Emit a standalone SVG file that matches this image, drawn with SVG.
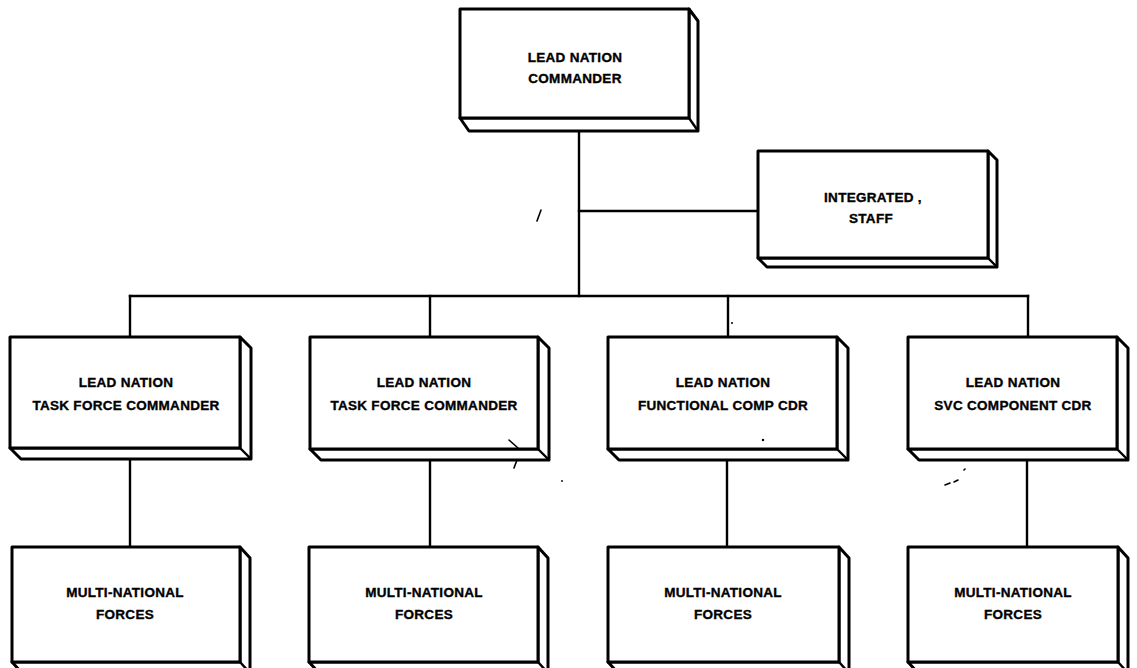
<svg xmlns="http://www.w3.org/2000/svg" width="1137" height="668" viewBox="0 0 1137 668">
<style>
  .face{fill:#fff;stroke:#000;stroke-width:3;stroke-linejoin:round}
  .slab{fill:#fff;stroke:#000;stroke-width:3;stroke-linejoin:round}
  .edge{stroke:#000;stroke-width:2.4;fill:none}
  .conn{stroke:#000;stroke-width:2.4;fill:none;stroke-linecap:square}
  .lbl{font-family:"Liberation Sans",Arial,sans-serif;font-weight:bold;font-size:13.5px;letter-spacing:0.3px;text-anchor:middle;fill:#000;stroke:#000;stroke-width:0.35}
  .spec{fill:#000;stroke:#000;stroke-width:1.6;stroke-linecap:round}
</style>
<rect width="1137" height="668" fill="#fff"/>

<g id="connectors">
  <path class="conn" d="M579 132 V296"/>
  <path class="conn" d="M579 211 H757"/>
  <path class="conn" d="M130 296 H1028"/>
  <path class="conn" d="M130 296 V337"/>
  <path class="conn" d="M430 296 V337"/>
  <path class="conn" d="M728 296 V337"/>
  <path class="conn" d="M1028 296 V337"/>
  <path class="conn" d="M130 459 V547"/>
  <path class="conn" d="M430 460 V547"/>
  <path class="conn" d="M727 460 V547"/>
  <path class="conn" d="M1027 460 V547"/>
</g>

<g id="lead-nation-commander">
  <polygon class="slab" points="460,118 469,131 698,131 698,21 689,9 689,118"/>
  <rect class="face" x="460" y="9" width="229" height="109"/>
  <path class="edge" d="M689 118 L698 131"/>
  <text class="lbl" x="575" y="62">LEAD NATION</text>
  <text class="lbl" x="575" y="83">COMMANDER</text>
</g>

<g id="integrated-staff">
  <polygon class="slab" points="758,258 767,267 997,267 997,160 988,151 988,258"/>
  <rect class="face" x="758" y="151" width="230" height="107"/>
  <path class="edge" d="M988 258 L997 267"/>
  <text class="lbl" x="873" y="202">INTEGRATED ,</text>
  <text class="lbl" x="871" y="223">STAFF</text>
</g>

<g id="task-force-1">
  <polygon class="slab" points="10,448 21,459 251,459 251,348 240,337 240,448"/>
  <rect class="face" x="10" y="337" width="230" height="111"/>
  <path class="edge" d="M240 448 L251 459"/>
  <text class="lbl" x="126" y="387">LEAD NATION</text>
  <text class="lbl" x="126" y="410">TASK FORCE COMMANDER</text>
</g>

<g id="task-force-2">
  <polygon class="slab" points="310,449 321,460 549,460 549,348 538,337 538,449"/>
  <rect class="face" x="310" y="337" width="228" height="112"/>
  <path class="edge" d="M538 449 L549 460"/>
  <text class="lbl" x="424" y="387">LEAD NATION</text>
  <text class="lbl" x="424" y="410">TASK FORCE COMMANDER</text>
</g>

<g id="functional-comp">
  <polygon class="slab" points="608,449 619,460 848,460 848,348 837,337 837,449"/>
  <rect class="face" x="608" y="337" width="229" height="112"/>
  <path class="edge" d="M837 449 L848 460"/>
  <text class="lbl" x="723" y="387">LEAD NATION</text>
  <text class="lbl" x="723" y="410">FUNCTIONAL COMP CDR</text>
</g>

<g id="svc-component">
  <polygon class="slab" points="908,449 919,460 1128,460 1128,348 1117,337 1117,449"/>
  <rect class="face" x="908" y="337" width="209" height="112"/>
  <path class="edge" d="M1117 449 L1128 460"/>
  <text class="lbl" x="1013" y="387">LEAD NATION</text>
  <text class="lbl" x="1013" y="410">SVC COMPONENT CDR</text>
</g>

<g id="mnf-1">
  <polygon class="slab" points="12,662 22,673 250,673 250,558 240,547 240,662"/>
  <rect class="face" x="12" y="547" width="228" height="115"/>
  <path class="edge" d="M240 662 L250 673"/>
  <text class="lbl" x="125" y="597">MULTI-NATIONAL</text>
  <text class="lbl" x="125" y="619">FORCES</text>
</g>

<g id="mnf-2">
  <polygon class="slab" points="309,662 319,673 548,673 548,558 538,547 538,662"/>
  <rect class="face" x="309" y="547" width="229" height="115"/>
  <path class="edge" d="M538 662 L548 673"/>
  <text class="lbl" x="424" y="597">MULTI-NATIONAL</text>
  <text class="lbl" x="424" y="619">FORCES</text>
</g>

<g id="mnf-3">
  <polygon class="slab" points="608,662 618,673 849,673 849,558 839,547 839,662"/>
  <rect class="face" x="608" y="547" width="231" height="115"/>
  <path class="edge" d="M839 662 L849 673"/>
  <text class="lbl" x="723" y="597">MULTI-NATIONAL</text>
  <text class="lbl" x="723" y="619">FORCES</text>
</g>

<g id="mnf-4">
  <polygon class="slab" points="908,662 918,673 1128,673 1128,558 1118,547 1118,662"/>
  <rect class="face" x="908" y="547" width="210" height="115"/>
  <path class="edge" d="M1118 662 L1128 673"/>
  <text class="lbl" x="1013" y="597">MULTI-NATIONAL</text>
  <text class="lbl" x="1013" y="619">FORCES</text>
</g>

<g id="specks">
  <path class="spec" d="M541 210 L537 221"/>
  <path class="spec" d="M509 440 L518 448" stroke-width="2.8"/>
  <path class="spec" d="M517 460 L514 468" stroke-width="3.2"/>
  <circle cx="562" cy="481" r="0.9" fill="#000"/>
  <circle cx="763" cy="440" r="1.2" fill="#000"/>
  <circle cx="732" cy="323" r="1" fill="#000"/>
  <path class="spec" d="M945 485 L950 483 M954 482 L958 480 M964 470 L965 469"/>
</g>
</svg>
